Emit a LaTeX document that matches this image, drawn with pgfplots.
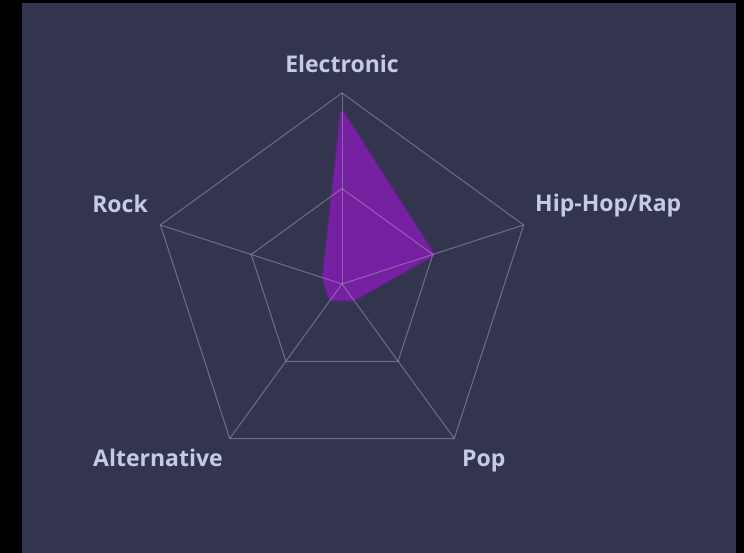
\documentclass[border=0pt]{standalone}
\usepackage{pgfplots}
\pgfplotsset{compat=1.18}
\usepackage{fontspec}
\setmainfont{Open Sans}
\definecolor{panel}{RGB}{51,52,78}
\definecolor{gridc}{RGB}{165,166,190}
\definecolor{fillc}{RGB}{123,31,168}
\definecolor{labelc}{RGB}{197,202,233}

\begin{document}
\begin{tikzpicture}[x=1pt,y=1pt]
% frame and panel (pixel units, y up)
\fill[black] (0,0) rectangle (744,553);
\fill[panel] (22,0) rectangle (736,550);

\begin{axis}[
    at={(0,0)}, anchor=south west,
    scale only axis,
    width=744pt, height=553pt,
    % 1 unit = 19.1px, origin at the chart centre
    xmin=-17.906, xmax=21.047,
    ymin=-14.084, ymax=14.869,
    hide axis,
    clip=false,
]
% data: Electronic, Hip-Hop/Rap, Pop, Alternative, Rock
\addplot[data cs=polar, draw=fillc, draw opacity=0.35,
    line width=5pt, line join=round] coordinates {
    (90,9) (18,5) (-54,1) (-126,1) (162,1) (90,9)
};
\addplot[data cs=polar, fill=fillc, draw=fillc, fill opacity=0.92, draw opacity=0.85,
    line width=2.5pt, line join=round] coordinates {
    (90,9) (18,5) (-54,1) (-126,1) (162,1) (90,9)
};

% grid pentagons
\addplot[data cs=polar, gridc, opacity=0.5, line width=1pt] coordinates {
    (90,10) (18,10) (-54,10) (-126,10) (162,10) (90,10)
};
\addplot[data cs=polar, gridc, opacity=0.5, line width=1pt] coordinates {
    (90,5) (18,5) (-54,5) (-126,5) (162,5) (90,5)
};
% spokes
\addplot[data cs=polar, gridc, opacity=0.5, line width=1pt] coordinates {(90,0) (90,10)};
\addplot[data cs=polar, gridc, opacity=0.5, line width=1pt] coordinates {(18,0) (18,10)};
\addplot[data cs=polar, gridc, opacity=0.5, line width=1pt] coordinates {(-54,0) (-54,10)};
\addplot[data cs=polar, gridc, opacity=0.5, line width=1pt] coordinates {(-126,0) (-126,10)};
\addplot[data cs=polar, gridc, opacity=0.5, line width=1pt] coordinates {(162,0) (162,10)};
\end{axis}

% point labels
\begin{scope}[every node/.style={inner sep=0pt, text=labelc, font=\fontsize{23}{23}\selectfont\bfseries}]
\node[anchor=base] at (342,480) {Electronic};
\node[anchor=base west] at (535,341) {Hip-Hop/Rap};
\node[anchor=base west] at (462,86) {Pop};
\node[anchor=base west] at (93,86) {Alternative};
\node[anchor=base east] at (148,340) {Rock};
\end{scope}
\end{tikzpicture}
\end{document}
